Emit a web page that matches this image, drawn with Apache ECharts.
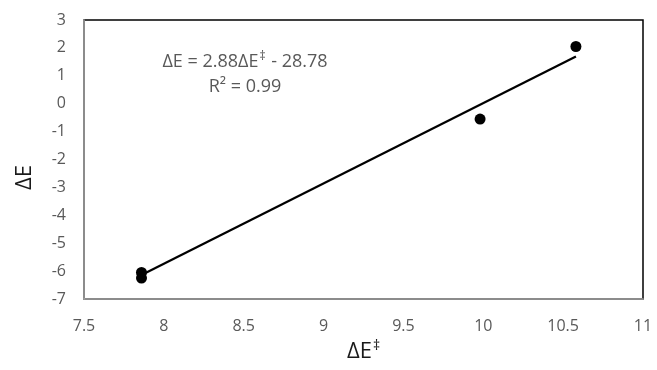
<!DOCTYPE html>
<html><head><meta charset="utf-8">
<script src="https://cdn.jsdelivr.net/npm/echarts@6/dist/echarts.min.js"></script>
<style>html,body{margin:0;padding:0;background:#fff}#c{width:657px;height:370px}</style>
</head><body><div id="c"></div>
<script>
var xData = [7.86, 7.86, 9.98, 10.58];
var yData = [-6.05, -6.25, -0.55, 2.05];
var trendX = [7.86, 10.58];
var trendY = [-6.14, 1.69];
var eqLabelA = 'ΔE = 2.88ΔE';
var eqLabelSup = '‡';
var eqLabelB = ' - 28.78';
var r2Label = 'R² = 0.99';
var xNameBase = 'ΔE';
var xNameSup = '‡';
var yName = 'ΔE';

var font = '"Open Sans", "Noto Sans", sans-serif';
var chart = echarts.init(document.getElementById('c'));
chart.setOption({
  animation: false,
  grid: {left: 84, right: 14, top: 20, bottom: 68, show: true, borderColor: '#000', borderWidth: 1.5},
  xAxis: {
    type: 'value', min: 7.5, max: 11, interval: 0.5,
    name: '{b|' + xNameBase + '}{s|' + xNameSup + '}', nameLocation: 'middle', nameGap: 40,
    nameTextStyle: {fontSize: 22, color: '#1a1a1a', fontFamily: font, lineHeight: 26,
      rich: {
        b: {fontSize: 22, color: '#1a1a1a', fontFamily: font, lineHeight: 26},
        s: {fontSize: 14, color: '#1a1a1a', fontFamily: font, verticalAlign: 'top', lineHeight: 14, padding: [0, 0, 0, 1]}
      }},
    axisLine: {show: true, onZero: false, lineStyle: {color: '#a6a6a6', width: 1.5}},
    axisTick: {show: false}, splitLine: {show: false},
    axisLabel: {color: '#595959', fontSize: 16, margin: 19, fontFamily: font}
  },
  yAxis: {
    type: 'value', min: -7, max: 3, interval: 1,
    name: yName, nameLocation: 'middle', nameGap: 48,
    nameTextStyle: {fontSize: 22, color: '#1a1a1a', fontFamily: font, padding: [0, 36, 0, 0]},
    axisLine: {show: true, onZero: false, lineStyle: {color: '#a6a6a6', width: 1.5}},
    axisTick: {show: false}, splitLine: {show: false},
    axisLabel: {color: '#595959', fontSize: 16, margin: 18, fontFamily: font}
  },
  graphic: [
    {type: 'text', x: 245, y: 62, style: {
      text: '{n|' + eqLabelA + '}{s|' + eqLabelSup + '}{n|' + eqLabelB + '}',
      textAlign: 'center', textVerticalAlign: 'middle',
      rich: {
        n: {fill: '#595959', fontSize: 18, fontFamily: font, lineHeight: 22},
        s: {fill: '#595959', fontSize: 12, fontFamily: font, verticalAlign: 'top', lineHeight: 12, padding: [0, 1, 0, 1]}
      }}},
    {type: 'text', x: 245, y: 87, style: {text: r2Label, fill: '#595959', font: '18px ' + font, textAlign: 'center', textVerticalAlign: 'middle'}}
  ],
  series: [
    {type: 'line', data: trendX.map(function(x, i){return [x, trendY[i]];}),
     showSymbol: false, lineStyle: {color: '#000', width: 2.2}, z: 2},
    {type: 'scatter', data: xData.map(function(x, i){return [x, yData[i]];}),
     symbol: 'circle', symbolSize: 11, itemStyle: {color: '#000', opacity: 1}, z: 3}
  ]
});
</script></body></html>
